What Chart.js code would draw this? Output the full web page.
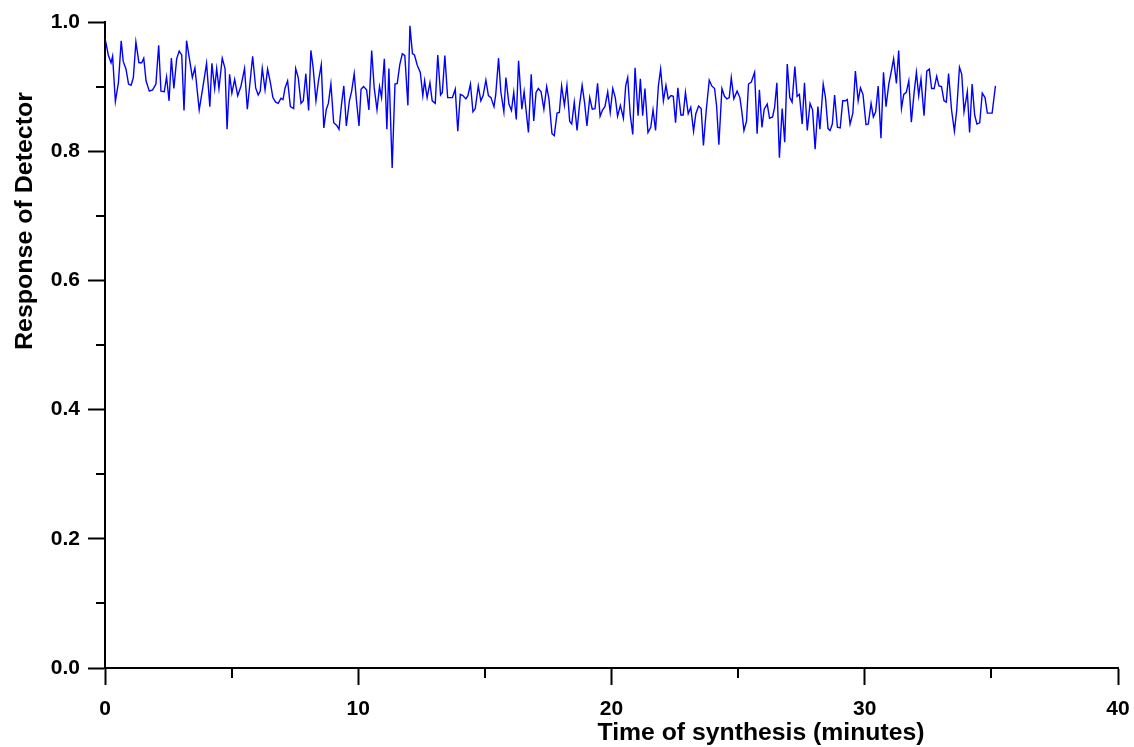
<!DOCTYPE html>
<html>
<head>
<meta charset="utf-8">
<title>Response of Detector</title>
<script src="https://cdn.jsdelivr.net/npm/chart.js@4"></script>
<style>
  html, body { margin: 0; padding: 0; background: #fff; }
  #wrap { width: 1134px; height: 747px; }
</style>
</head>
<body>
<div id="wrap"><canvas id="detectorChart" width="1134" height="747"></canvas></div>
<script>
// ======= Data =======
const times = [
  0.00, 0.13, 0.24, 0.30, 0.41, 0.53, 0.64, 0.72, 0.83, 0.93, 1.03, 1.12, 1.22, 1.34, 1.45, 1.53, 1.62, 1.75, 1.88, 2.01,
  2.12, 2.21, 2.34, 2.43, 2.53, 2.62, 2.72, 2.83, 2.93, 3.03, 3.12, 3.22, 3.33, 3.45, 3.55, 3.72, 3.86, 4.01, 4.14, 4.22,
  4.33, 4.41, 4.50, 4.63, 4.74, 4.82, 4.92, 5.01, 5.12, 5.24, 5.37, 5.51, 5.62, 5.83, 5.95, 6.05, 6.13, 6.21, 6.32, 6.42,
  6.53, 6.63, 6.74, 6.84, 6.95, 7.03, 7.11, 7.21, 7.32, 7.45, 7.53, 7.63, 7.74, 7.83, 7.93, 8.04, 8.13, 8.22, 8.33, 8.43,
  8.54, 8.64, 8.74, 8.82, 8.92, 9.03, 9.15, 9.24, 9.34, 9.43, 9.53, 9.65, 9.74, 9.84, 9.93, 10.03, 10.11, 10.21, 10.33, 10.42,
  10.53, 10.63, 10.74, 10.84, 10.92, 11.03, 11.13, 11.21, 11.34, 11.45, 11.54, 11.64, 11.74, 11.84, 11.96, 12.04, 12.14, 12.22, 12.33, 12.45,
  12.55, 12.62, 12.72, 12.83, 12.92, 13.04, 13.14, 13.25, 13.32, 13.42, 13.53, 13.72, 13.83, 13.93, 14.03, 14.13, 14.25, 14.33, 14.43, 14.53,
  14.62, 14.74, 14.84, 14.93, 15.04, 15.14, 15.24, 15.36, 15.43, 15.54, 15.63, 15.75, 15.83, 15.95, 16.05, 16.14, 16.24, 16.33, 16.46, 16.55,
  16.72, 16.83, 16.93, 17.02, 17.11, 17.22, 17.33, 17.44, 17.53, 17.65, 17.74, 17.85, 17.94, 18.03, 18.14, 18.24, 18.35, 18.43, 18.53, 18.64,
  18.73, 18.84, 18.94, 19.03, 19.14, 19.24, 19.35, 19.45, 19.55, 19.65, 19.74, 19.85, 19.95, 20.05, 20.15, 20.24, 20.35, 20.47, 20.56, 20.64,
  20.74, 20.84, 20.93, 21.05, 21.14, 21.23, 21.32, 21.44, 21.55, 21.64, 21.74, 21.85, 21.94, 22.05, 22.15, 22.24, 22.35, 22.44, 22.53, 22.62,
  22.74, 22.83, 22.92, 23.03, 23.13, 23.24, 23.33, 23.44, 23.54, 23.63, 23.74, 23.86, 23.96, 24.07, 24.15, 24.24, 24.36, 24.46, 24.56, 24.65,
  24.73, 24.83, 24.96, 25.07, 25.15, 25.23, 25.33, 25.41, 25.52, 25.65, 25.75, 25.84, 25.94, 26.03, 26.15, 26.24, 26.36, 26.44, 26.53, 26.63,
  26.74, 26.84, 26.94, 27.04, 27.13, 27.24, 27.33, 27.42, 27.53, 27.62, 27.73, 27.84, 27.94, 28.04, 28.15, 28.23, 28.36, 28.45, 28.55, 28.63,
  28.72, 28.81, 28.92, 29.03, 29.13, 29.24, 29.31, 29.42, 29.53, 29.63, 29.74, 29.83, 29.93, 30.05, 30.14, 30.25, 30.34, 30.43, 30.53, 30.64,
  30.74, 30.84, 30.95, 31.05, 31.14, 31.25, 31.34, 31.45, 31.54, 31.64, 31.74, 31.84, 31.95, 32.04, 32.13, 32.22, 32.34, 32.45, 32.55, 32.64,
  32.74, 32.84, 32.93, 33.03, 33.13, 33.22, 33.31, 33.43, 33.54, 33.63, 33.74, 33.83, 33.92, 34.05, 34.14, 34.24, 34.34, 34.43, 34.54, 34.64,
  34.75, 34.84, 34.96, 35.03, 35.16
];

const response = [
  0.975, 0.949, 0.937, 0.947, 0.877, 0.906, 0.971, 0.939, 0.927, 0.904, 0.902, 0.914, 0.969, 0.937, 0.937, 0.944, 0.909, 0.893, 0.895, 0.904,
  0.964, 0.893, 0.892, 0.915, 0.878, 0.944, 0.897, 0.943, 0.955, 0.949, 0.863, 0.971, 0.944, 0.914, 0.929, 0.864, 0.898, 0.936, 0.869, 0.936,
  0.897, 0.928, 0.897, 0.944, 0.928, 0.834, 0.919, 0.890, 0.911, 0.886, 0.901, 0.928, 0.865, 0.947, 0.898, 0.887, 0.893, 0.928, 0.895, 0.927,
  0.906, 0.883, 0.876, 0.874, 0.882, 0.880, 0.898, 0.909, 0.869, 0.866, 0.928, 0.914, 0.874, 0.878, 0.920, 0.863, 0.956, 0.929, 0.878, 0.909,
  0.934, 0.836, 0.865, 0.874, 0.904, 0.844, 0.840, 0.834, 0.873, 0.901, 0.839, 0.878, 0.893, 0.920, 0.878, 0.839, 0.896, 0.900, 0.895, 0.864,
  0.956, 0.898, 0.864, 0.900, 0.883, 0.943, 0.834, 0.928, 0.774, 0.904, 0.905, 0.934, 0.951, 0.948, 0.871, 0.994, 0.951, 0.949, 0.933, 0.922,
  0.886, 0.909, 0.883, 0.906, 0.878, 0.874, 0.949, 0.887, 0.891, 0.948, 0.883, 0.883, 0.896, 0.831, 0.888, 0.886, 0.881, 0.886, 0.904, 0.861,
  0.866, 0.901, 0.878, 0.886, 0.910, 0.886, 0.883, 0.869, 0.888, 0.944, 0.892, 0.861, 0.914, 0.873, 0.863, 0.891, 0.849, 0.940, 0.865, 0.892,
  0.829, 0.919, 0.847, 0.891, 0.897, 0.892, 0.865, 0.900, 0.881, 0.827, 0.824, 0.859, 0.860, 0.901, 0.871, 0.902, 0.846, 0.842, 0.876, 0.832,
  0.869, 0.902, 0.874, 0.839, 0.883, 0.865, 0.866, 0.905, 0.854, 0.864, 0.869, 0.892, 0.860, 0.897, 0.883, 0.854, 0.871, 0.851, 0.901, 0.914,
  0.856, 0.826, 0.929, 0.855, 0.912, 0.855, 0.897, 0.829, 0.837, 0.864, 0.832, 0.901, 0.927, 0.878, 0.902, 0.881, 0.886, 0.885, 0.844, 0.898,
  0.856, 0.856, 0.891, 0.858, 0.868, 0.831, 0.858, 0.870, 0.866, 0.809, 0.863, 0.910, 0.901, 0.897, 0.870, 0.810, 0.897, 0.885, 0.881, 0.883,
  0.914, 0.881, 0.893, 0.883, 0.860, 0.832, 0.846, 0.904, 0.907, 0.922, 0.827, 0.895, 0.837, 0.865, 0.873, 0.851, 0.853, 0.868, 0.906, 0.790,
  0.866, 0.814, 0.935, 0.883, 0.876, 0.931, 0.885, 0.888, 0.842, 0.906, 0.832, 0.874, 0.864, 0.803, 0.869, 0.834, 0.904, 0.883, 0.835, 0.832,
  0.842, 0.887, 0.837, 0.836, 0.878, 0.878, 0.880, 0.842, 0.859, 0.924, 0.878, 0.898, 0.888, 0.841, 0.842, 0.874, 0.853, 0.861, 0.901, 0.820,
  0.922, 0.869, 0.904, 0.924, 0.943, 0.905, 0.956, 0.866, 0.888, 0.891, 0.909, 0.845, 0.891, 0.922, 0.886, 0.912, 0.855, 0.924, 0.927, 0.897,
  0.897, 0.916, 0.901, 0.900, 0.878, 0.876, 0.920, 0.863, 0.831, 0.863, 0.930, 0.919, 0.861, 0.892, 0.829, 0.904, 0.856, 0.842, 0.844, 0.890,
  0.883, 0.859, 0.859, 0.859, 0.901
];

// tick positions (data units)
const xMajorStep = 10;
const yMajorStep = 0.2;
const xMinorTicks = [5, 15, 25, 35];
const yMinorTicks = [0.1, 0.3, 0.5, 0.7, 0.9];

const xTitle = "Time of synthesis (minutes)";
const yTitle = "Response of Detector";

document.addEventListener("DOMContentLoaded", function () {
  Chart.defaults.font.family = "'Liberation Sans', Arial, Helvetica, sans-serif";
  Chart.defaults.color = "#000";

  // minor ticks + axis titles (titles sit off-centre in the original)
  const extras = {
    id: "extras",
    afterDraw(chart) {
      const c = chart.ctx;
      const xs = chart.scales.x;
      const ys = chart.scales.y;
      c.save();
      c.strokeStyle = "#000";
      c.lineWidth = 2;
      xMinorTicks.forEach(function (v) {
        const px = Math.round(xs.getPixelForValue(v));
        c.beginPath();
        c.moveTo(px, xs.top);
        c.lineTo(px, xs.top + 10);
        c.stroke();
      });
      yMinorTicks.forEach(function (v) {
        const py = Math.round(ys.getPixelForValue(v));
        c.beginPath();
        c.moveTo(ys.right, py);
        c.lineTo(ys.right - 9, py);
        c.stroke();
      });

      c.fillStyle = "#000";
      c.font = "bold 23px 'Liberation Sans', Arial, sans-serif";
      c.textAlign = "center";
      c.textBaseline = "alphabetic";

      // x title
      let w = c.measureText(xTitle).width;
      c.save();
      c.translate(761, 740);
      c.scale(327 / w, 1);
      c.fillText(xTitle, 0, 0);
      c.restore();

      // y title
      w = c.measureText(yTitle).width;
      c.save();
      c.translate(32, 221);
      c.rotate(-Math.PI / 2);
      c.scale(258 / w, 1);
      c.fillText(yTitle, 0, 0);
      c.restore();

      c.restore();
    }
  };

  const ctx = document.getElementById("detectorChart").getContext("2d");

  const detectorChart = new Chart(ctx, {
    type: "line",
    data: {
      datasets: [
        {
          label: yTitle,
          data: times.map(function (t, i) { return { x: t, y: response[i] }; }),
          borderColor: "#0000ff",
          borderWidth: 1.4,
          pointRadius: 0,
          fill: false,
          tension: 0
        }
      ]
    },
    options: {
      responsive: false,
      animation: false,
      layout: { padding: { top: 22, right: 16, left: 0, bottom: 0 } },
      plugins: {
        legend: { display: false },
        tooltip: { enabled: false }
      },
      scales: {
        x: {
          type: "linear",
          min: 0,
          max: 40,
          afterFit: function (scale) {
            scale.height = 79;
            scale.paddingLeft = 0;
            scale.paddingRight = 0;
          },
          ticks: {
            stepSize: xMajorStep,
            padding: 12,
            font: { size: 21, weight: "bold" },
            maxRotation: 0
          },
          grid: { drawOnChartArea: false, drawTicks: true, tickLength: 17, tickWidth: 2, color: "#000" },
          border: { display: true, color: "#000", width: 2 }
        },
        y: {
          min: 0,
          max: 1,
          afterFit: function (scale) {
            scale.width = 105;
            scale.paddingTop = 0;
            scale.paddingBottom = 0;
          },
          ticks: {
            stepSize: yMajorStep,
            padding: 8,
            font: { size: 21, weight: "bold" },
            callback: function (v) { return v.toFixed(1); }
          },
          grid: { drawOnChartArea: false, drawTicks: true, tickLength: 17, tickWidth: 2, color: "#000" },
          border: { display: true, color: "#000", width: 2 }
        }
      }
    },
    plugins: [extras]
  });
});
</script>
</body>
</html>
